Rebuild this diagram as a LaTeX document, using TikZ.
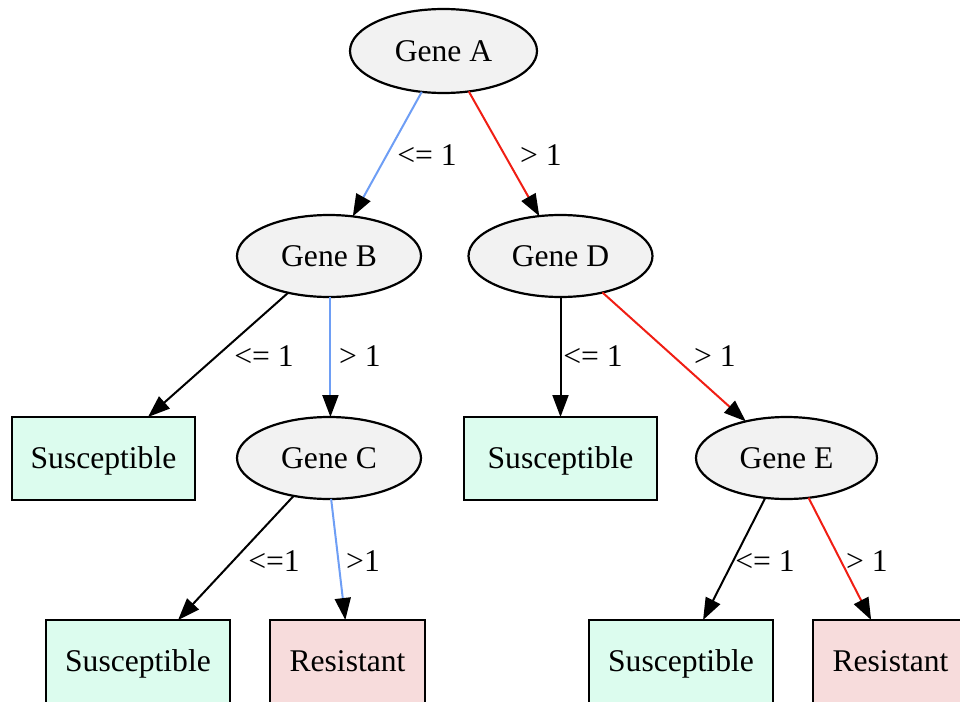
\documentclass[tikz,border=0pt]{standalone}
\usepackage{fontspec}
\setmainfont{Liberation Serif}
\usetikzlibrary{shapes.geometric,arrows.meta}
\definecolor{gfill}{HTML}{F2F2F2}
\definecolor{sfill}{HTML}{DCFCEE}
\definecolor{rfill}{HTML}{F7DCDC}
\definecolor{eblue}{RGB}{110,158,245}
\definecolor{ered}{RGB}{240,30,20}
\begin{document}
\begin{tikzpicture}[x=0.5pt,y=-0.5pt,
  every node/.style={font=\fontsize{15.8pt}{18pt}\selectfont, inner sep=0pt, outer sep=0pt, text height=10.4pt, text depth=0pt},
  gene/.style={ellipse, draw, line width=1.1pt, fill=gfill, minimum width=92pt, minimum height=41pt},
  sus/.style={rectangle, draw, line width=1.1pt, fill=sfill, minimum height=41.5pt},
  res/.style={rectangle, draw, line width=1.1pt, fill=rfill, minimum height=41.5pt, minimum width=77.5pt},
  edge/.style={line width=1pt, -{Triangle[length=11pt,width=8pt,color=black]}}
]
\useasboundingbox (0,0) rectangle (960,702);
% nodes
\node[gene, minimum width=93.5pt, minimum height=42pt] (A) at (443.5,51) {Gene A};
\node[gene] (B) at (329,256) {Gene B};
\node[gene] (D) at (560.5,256) {Gene D};
\node[gene] (C) at (329,458) {Gene C};
\node[gene, minimum width=90.5pt] (E) at (786.5,458) {Gene E};
\node[sus, minimum width=91.5pt] (S1) at (103.5,458.5) {Susceptible};
\node[sus, minimum width=96.5pt] (S2) at (560.5,458.5) {Susceptible};
\node[sus, minimum width=92pt] (S3) at (138,661.5) {Susceptible};
\node[res] (R1) at (347.5,661.5) {Resistant};
\node[sus, minimum width=92pt] (S4) at (681,661.5) {Susceptible};
\node[res] (R2) at (890.5,661.5) {Resistant};
% edges
\draw[edge, eblue] (A.-118.9) -- (B.59.9);
\draw[edge, ered] (A.-58.8) -- (D.118.9);
\draw[edge, black] (B.-138.2) -- (S1.43);
\draw[edge, eblue] (B.-88.6) -- (C.88.6);
\draw[edge, black] (D.south) -- (S2.north);
\draw[edge, ered] (D.-41) -- (E.138.8);
\draw[edge, black] (C.-133.7) -- (S3.46.8);
\draw[edge, eblue] (C.-87) -- (R1.93.4);
\draw[edge, black] (E.-118.4) -- (S4.62);
\draw[edge, ered] (E.-61.6) -- (R2.115);
% labels
\node (l1) at (427,155) {<= 1};
\node (l2) at (541,155) {> 1};
\node (l3) at (264,356) {<= 1};
\node (l4) at (360,356) {> 1};
\node (l5) at (593,356) {<= 1};
\node (l6) at (715,356) {> 1};
\node (l7) at (274,561) {<=1};
\node (l8) at (363,561) {>1};
\node (l9) at (765,561) {<= 1};
\node (l10) at (867,561) {> 1};
\end{tikzpicture}
\end{document}
